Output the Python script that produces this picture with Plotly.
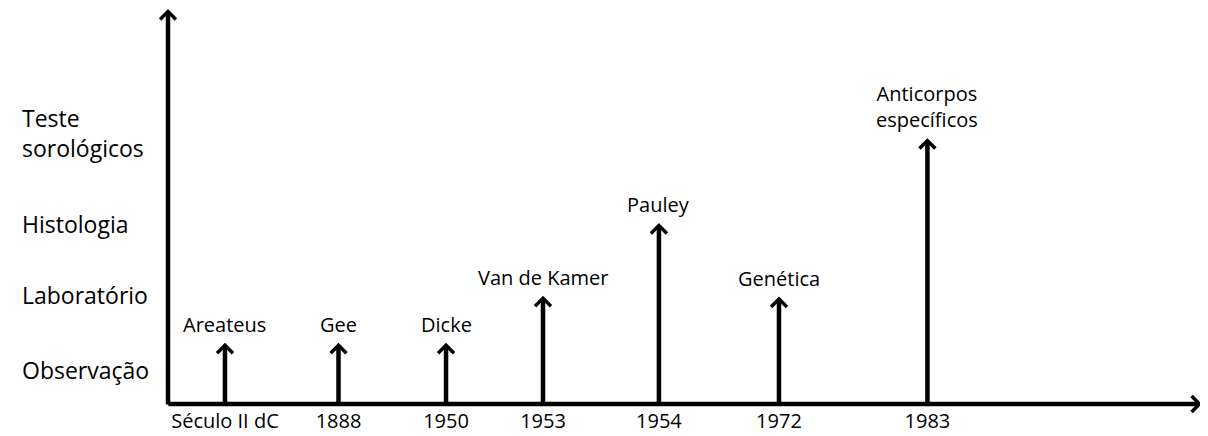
import plotly.graph_objects as go

# ---- data ----
events = ["Areateus", "Gee", "Dicke", "Van de Kamer", "Pauley", "Genética", "Anticorpos<br>específicos"]
periods = ["Século II dC", "1888", "1950", "1953", "1954", "1972", "1983"]
heights = [1.55, 1.55, 1.55, 2.74, 4.58, 2.72, 6.73]
levels = ["Observação", "Laboratório", "Histologia", "Teste<br>sorológicos"]
level_values = [0.85, 2.75, 4.55, 6.85]

# layout positions of the events along the timeline (axis units)
event_x = [0.496, 1.484, 2.42, 3.264, 4.273, 5.318, 6.61]

FONT = "Open Sans"
X_MAX, Y_MAX = 9.0, 10.0

fig = go.Figure()
# invisible trace to set up axes
fig.add_trace(go.Scatter(x=event_x, y=heights, mode="markers",
                         marker=dict(size=1, opacity=0), hoverinfo="skip", showlegend=False))

ann = []
arrow_style = dict(showarrow=True, arrowhead=4, arrowsize=0.68, arrowwidth=4.5,
                   arrowcolor="black", text="", xref="x", yref="y", axref="x", ayref="y")
# axis arrows
ann.append(dict(x=0, y=Y_MAX, ax=0, ay=-0.05, **arrow_style))
ann.append(dict(x=X_MAX, y=0, ax=-0.01, ay=0, **arrow_style))
# event arrows and labels
for ev, x, h in zip(events, event_x, heights):
    ann.append(dict(x=x, y=h, ax=x, ay=0, **arrow_style))
    ann.append(dict(x=x, y=h, xref="x", yref="y", text=ev, showarrow=False,
                    yanchor="bottom", yshift=3, font=dict(family=FONT, size=20, color="black")))
# level labels on the left
for lv, y in zip(levels, level_values):
    ann.append(dict(x=-0.143, y=y, xref="paper", yref="y", text=lv, showarrow=False,
                    xanchor="left", align="left", font=dict(family=FONT, size=23, color="black")))

# page body has an 8px default margin, so the figure is 8px smaller
fig.update_layout(
    width=1200, height=428,
    margin=dict(l=160, r=6, t=1, b=32),
    paper_bgcolor="white", plot_bgcolor="white",
    annotations=ann,
    xaxis=dict(range=[0, X_MAX], showgrid=False, zeroline=False, showline=False,
               tickvals=event_x, ticktext=periods, ticks="", automargin=False,
               ticklabelstandoff=3,
               tickfont=dict(family=FONT, size=20, color="black")),
    yaxis=dict(range=[0, Y_MAX], showgrid=False, zeroline=False, showline=False,
               showticklabels=False, ticks="", automargin=False),
    showlegend=False,
)

fig.write_html("out.html")
